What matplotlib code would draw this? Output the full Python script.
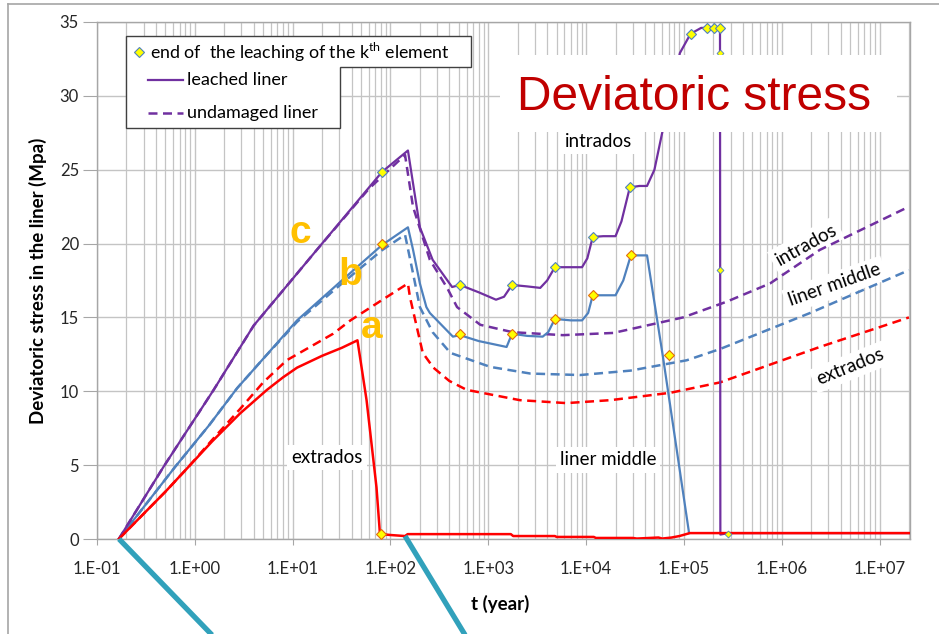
import numpy as np
import matplotlib
matplotlib.use("Agg")
import matplotlib.pyplot as plt
from matplotlib.ticker import FuncFormatter, LogLocator, NullFormatter
from matplotlib.lines import Line2D
from matplotlib.patches import Polygon, Rectangle

plt.rcParams['font.family'] = ['Lato', 'DejaVu Sans']
plt.rcParams['mathtext.fontset'] = 'custom'
plt.rcParams['mathtext.rm'] = 'Lato'

# ------------------------------------------------------------------
# data (t in years, stress in MPa)
# ------------------------------------------------------------------
# c : intrados, leached liner
intra_x = [0.167, 0.48, 1.56, 4.0, 17.8, 82, 151, 170, 200, 270, 427, 513, 800, 1200, 1450,
           1750, 2500, 3400, 4000, 4800, 6500, 9100, 10300, 11700, 15000, 20000, 23000, 28000,
           35000, 42000, 50000, 60000, 72000, 91000, 117000, 150000, 172000, 204000, 234000,
           236000, 283000, 2e7]
intra_y = [0, 4.9, 10.1, 14.45, 19.6, 24.85, 26.3, 24.1, 21.1, 18.9, 17.06, 17.2, 16.7, 16.2, 16.4,
           17.2, 17.1, 17.0, 17.5, 18.4, 18.4, 18.4, 19.0, 20.45, 20.5, 20.5, 21.5, 23.8,
           23.9, 23.9, 25.0, 27.5, 29.7, 32.9, 34.2, 34.6, 34.6, 34.6, 34.6,
           0.3, 0.4, 0.4]
# intrados, undamaged liner
intra_u_x = [0.167, 0.48, 1.56, 4.0, 17.8, 60, 141, 170, 253, 380, 480, 830, 1780, 5800, 19000,
             98000, 275000, 760000, 2.45e6, 2e7]
intra_u_y = [0, 4.9, 10.1, 14.45, 19.6, 23.7, 26.0, 22.5, 18.9, 17.0, 15.7, 14.5, 14.0, 13.8, 13.95,
             15.0, 16.07, 17.3, 19.57, 22.5]

# b : liner middle, leached liner
mid_x = [0.167, 0.632, 1.4, 2.7, 5.0, 11.1, 30, 82, 151, 170, 200, 233, 253, 435, 513, 800, 1540,
         1750, 2500, 3600, 4100, 4800, 7000, 9100, 10500, 11700, 15000, 20000, 24000, 28700,
         35000, 42000, 61200, 113000]
mid_y = [0, 4.9, 7.7, 10.2, 12.2, 14.8, 17.35, 19.9, 21.1, 19.6, 17.3, 15.7, 15.3, 13.7, 13.8, 13.4,
         13.0, 13.9, 13.75, 13.7, 14.0, 14.9, 14.8, 14.8, 15.3, 16.5, 16.5, 16.5, 17.5, 19.2,
         19.2, 19.2, 12.3, 0.4]
# liner middle, undamaged liner
mid_u_x = [0.167, 0.632, 1.4, 2.7, 5.0, 11.1, 30, 82, 141, 170, 200, 270, 410, 1050, 2700, 8700,
           28500, 107000, 234000, 1.95e6, 2e7]
mid_u_y = [0, 4.9, 7.7, 10.2, 12.2, 14.7, 17.15, 19.55, 20.6, 18.0, 15.7, 14.0, 12.6, 11.65, 11.2,
           11.1, 11.4, 12.1, 12.86, 15.3, 18.2]

# a : extrados, leached liner
extra_x = [0.167, 0.5, 0.866, 1.5, 2.9, 5.47, 8.0, 11.1, 20, 32, 46, 57, 72, 78, 81, 100, 141,
           150, 1700, 1800, 4800, 5000, 12000, 12600, 30000, 33000, 55000, 60000, 75000, 90000,
           115000, 2e7]
extra_y = [0, 3.2, 4.9, 6.6, 8.5, 10.1, 10.95, 11.6, 12.4, 12.95, 13.45, 9.4, 3.5, 0.4, 0.33, 0.27,
           0.2, 0.33, 0.33, 0.2, 0.2, 0.14, 0.14, 0.07, 0.07, 0.03, 0.1, 0.03, 0.1, 0.2,
           0.4, 0.4]
# extrados, undamaged liner
extra_u_x = [0.167, 0.5, 0.866, 1.5, 2.9, 5.0, 8.7, 16, 26, 39, 83, 151, 158, 186, 214, 275, 400,
             600, 2100, 6300, 17800, 73000, 234000, 2.45e6, 2e7]
extra_u_y = [0, 3.2, 4.9, 6.7, 8.8, 10.6, 12.1, 13.1, 13.9, 14.8, 16.2, 17.3, 16.4, 14.35, 12.6,
             11.6, 10.7, 10.1, 9.4, 9.2, 9.4, 9.9, 10.6, 13.0, 15.0]

# end of the leaching of the k-th element
mk_intra_x = [82, 513, 1750, 4800, 11700, 28000, 117000, 172000, 204000, 234000]
mk_intra_y = [24.85, 17.2, 17.2, 18.4, 20.45, 23.8, 34.2, 34.6, 34.6, 34.6]
mk_small_x = [236000, 236000, 283000]
mk_small_y = [32.9, 18.2, 0.35]
mk_mid_x = [82, 513, 1750, 4800, 11700, 28700, 71000]
mk_mid_y = [20.0, 13.9, 13.9, 14.9, 16.5, 19.2, 12.45]
mk_extra_x = [81]
mk_extra_y = [0.33]

x_decades = [0.1, 1, 10, 100, 1e3, 1e4, 1e5, 1e6, 1e7]

PURPLE = '#7030A0'
BLUE = '#4F81BD'
RED = '#FF0000'
GRID = '#C4C4C4'
TEAL = '#31A1BB'
ORANGE = '#FFC000'

fig = plt.figure(figsize=(9.39, 6.34), dpi=100)
ax = fig.add_axes([97/939, 1 - 539/634, 813/939, 517/634])
ax.set_xscale('log')
ax.set_xlim(0.1, 2.05e7)
ax.set_ylim(0, 35)

dash = (3.6, 2.2)
ax.plot(extra_u_x, extra_u_y, color=RED, lw=1.8, dashes=dash, zorder=4)
ax.plot(mid_u_x, mid_u_y, color=BLUE, lw=1.8, dashes=dash, zorder=4)
ax.plot(intra_u_x, intra_u_y, color=PURPLE, lw=1.8, dashes=dash, zorder=4)
ax.plot(mid_x, mid_y, color=BLUE, lw=1.6, zorder=5)
ax.plot(intra_x, intra_y, color=PURPLE, lw=1.6, zorder=5)
ax.plot(extra_x, extra_y, color=RED, lw=1.8, zorder=5)

ax.plot(mk_intra_x, mk_intra_y, 'D', ms=5.5, mfc='#FFFF00', mec=BLUE, mew=0.8, zorder=6)
ax.plot(mk_small_x, mk_small_y, 'D', ms=3.5, mfc='#FFFF00', mec=BLUE, mew=0.6, zorder=6)
ax.plot(mk_mid_x, mk_mid_y, 'D', ms=5.5, mfc='#FFFF00', mec='#E36C0A', mew=0.8, zorder=6)
ax.plot(mk_extra_x, mk_extra_y, 'D', ms=5.5, mfc='#FFFF00', mec='#E36C0A', mew=0.8, zorder=6)

# axes styling
ax.set_yticks(np.arange(0, 36, 5))
ax.set_xticks(x_decades)
ax.xaxis.set_minor_locator(LogLocator(base=10, subs=np.arange(2, 10), numticks=20))
ax.xaxis.set_minor_formatter(NullFormatter())
ax.xaxis.set_major_formatter(FuncFormatter(lambda v, _: f"1.E{int(round(np.log10(v))):+03d}"))
ax.grid(True, which='major', color=GRID, lw=1.0, zorder=0)
ax.grid(True, which='minor', axis='x', color=GRID, lw=0.9, zorder=0)
ax.set_axisbelow(True)
for s in ax.spines.values():
    s.set_color('#A6A6A6')
    s.set_linewidth(1.0)
ax.tick_params(axis='x', which='major', length=4.5, color='#A6A6A6', pad=11, labelsize=12,
               labelcolor='#262626')
ax.tick_params(axis='x', which='minor', length=0)
ax.tick_params(axis='y', length=10, color='#A6A6A6', pad=3, labelsize=12, labelcolor='#262626')

ax.set_ylabel('Deviatoric stress in the liner (Mpa)', fontsize=13.5, fontweight='bold')
ax.yaxis.set_label_coords(-0.0615, 0.499)
ax.set_xlabel('t (year)', fontsize=13.5, fontweight='bold')
ax.xaxis.set_label_coords(0.496, -0.108)

# title box
ax.add_patch(Rectangle((0.4957, 0.787), 0.488, 0.149, transform=ax.transAxes,
                       facecolor='white', edgecolor='none', zorder=9))
ax.text(0.735, 0.853, 'Deviatoric stress', transform=ax.transAxes, ha='center', va='center',
        fontsize=34.5, color='#C00000', family='Liberation Sans', zorder=10)

# curve labels
wbox = dict(facecolor='white', edgecolor='none', pad=3)
lab = dict(ha='center', va='center', fontsize=13.5, bbox=wbox, zorder=3)
ax.text(13300, 26.9, 'intrados', **lab)
ax.text(22.5, 5.5, 'extrados', **lab)
ax.text(16800, 5.35, 'liner middle', **lab)
ax.text(1.78e6, 19.9, 'intrados', rotation=29, rotation_mode='anchor', **lab)
ax.text(3.5e6, 17.2, 'liner middle', rotation=19.5, rotation_mode='anchor', **lab)
ax.text(5.0e6, 11.65, 'extrados', rotation=22, rotation_mode='anchor', **lab)

letter = dict(fontsize=28, fontweight='bold', color=ORANGE, family='Liberation Sans',
              ha='center', va='center', zorder=7)
ax.text(11.9, 20.7, 'c', **letter)
ax.text(38.6, 17.9, 'b', **letter)
ax.text(64.8, 14.3, 'a', **letter)

# teal pointer lines from the slide
ax.plot([0.168, 1.5], [0, -6.5], color=TEAL, lw=3.8, clip_on=False, zorder=8,
        solid_capstyle='butt')
ax.plot([141, 580], [0.2, -6.5], color=TEAL, lw=3.8, clip_on=False, zorder=8,
        solid_capstyle='butt')

# legend (L-shaped box as in the original)
W, H = 939, 634
def fp(x, y):
    return (x / W, 1 - y / H)
leg_pts = [fp(126, 36), fp(471, 36), fp(471, 67), fp(340, 67), fp(340, 128), fp(126, 128)]
fig.patches.append(Polygon(leg_pts, closed=True, transform=fig.transFigure, facecolor='white',
                           edgecolor='#404040', lw=1.0, zorder=20))
fig.lines.append(Line2D([fp(139, 52)[0]], [fp(139, 52)[1]], marker='D', ms=5.5, mfc='#FFFF00',
                        mec=BLUE, mew=0.8, transform=fig.transFigure, zorder=21))
fig.text(*fp(150, 52), 'end of  the leaching of the k$^{\\rm th}$ element', fontsize=12.8,
         va='center', ha='left', zorder=21)
fig.lines.append(Line2D([fp(148, 80)[0], fp(183, 80)[0]], [fp(148, 80)[1], fp(183, 80)[1]],
                        color=PURPLE, lw=1.6, transform=fig.transFigure, zorder=21))
fig.text(*fp(187, 80), 'leached liner', fontsize=13, va='center', ha='left', zorder=21)
fig.lines.append(Line2D([fp(148, 113)[0], fp(183, 113)[0]], [fp(148, 113)[1], fp(183, 113)[1]],
                        color=PURPLE, lw=1.8, dashes=dash, transform=fig.transFigure, zorder=21))
fig.text(*fp(187, 113), 'undamaged liner', fontsize=13, va='center', ha='left', zorder=21)

# outer chart border (top and left)
fig.lines.append(Line2D([8 / W, 1.0], [1 - 4 / H, 1 - 4 / H], color='#A6A6A6', lw=1.2,
                        transform=fig.transFigure))
fig.lines.append(Line2D([8 / W, 8 / W], [0, 1 - 4 / H], color='#A6A6A6', lw=1.2,
                        transform=fig.transFigure))

fig.savefig('out.png', dpi=100)
